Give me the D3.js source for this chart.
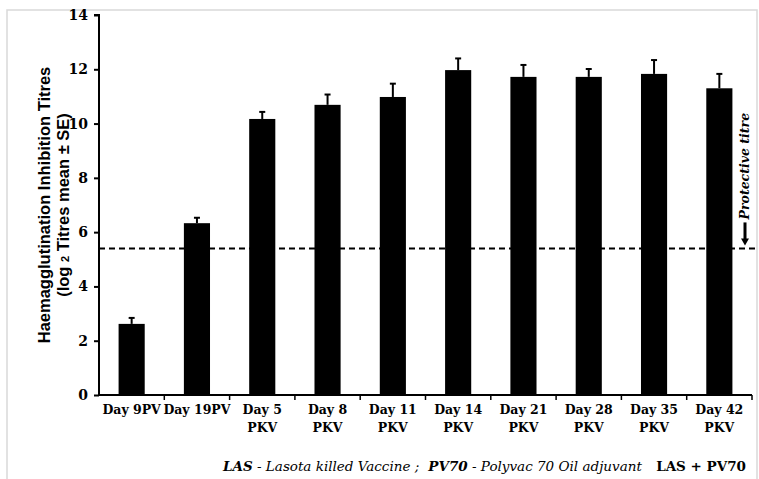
<!DOCTYPE html>
<html><head><meta charset="utf-8">
<script src="https://cdn.jsdelivr.net/npm/d3@7"></script>
<style>body{margin:0;background:#fff}svg{display:block}</style>
</head><body>
<svg id="c" width="759" height="479"></svg>
<script>
const categories = [["Day 9PV"],["Day 19PV"],["Day 5","PKV"],["Day 8","PKV"],["Day 11","PKV"],["Day 14","PKV"],["Day 21","PKV"],["Day 28","PKV"],["Day 35","PKV"],["Day 42","PKV"]];
const means = [2.62, 6.33, 10.17, 10.69, 10.98, 11.97, 11.72, 11.72, 11.83, 11.30];
const errors = [0.22, 0.2, 0.26, 0.38, 0.49, 0.43, 0.44, 0.29, 0.51, 0.53];
const yTicks = [0, 2, 4, 6, 8, 10, 12, 14];
const protectiveTitre = 5.4;

const svg = d3.select("#c");
const L = 99, R = 752, T = 15, B = 395;
const serif = "'DejaVu Serif', serif";

svg.append("rect").attr("x", 7).attr("y", 10).attr("width", 750).attr("height", 480)
  .attr("fill", "none").attr("stroke", "#d9d9d9").attr("stroke-width", 1.5);

const x = d3.scaleBand().domain(d3.range(categories.length)).range([L, R]).paddingInner(0.6).paddingOuter(0.3);
const y = d3.scaleLinear().domain([0, 14]).range([B, T]);

// protective titre line
svg.append("line").attr("x1", L).attr("x2", 759).attr("y1", y(protectiveTitre)).attr("y2", y(protectiveTitre))
  .attr("stroke", "#000").attr("stroke-width", 2).attr("stroke-dasharray", "6,4");

// bars
svg.append("g").selectAll("rect").data(means).join("rect")
  .attr("x", (d, i) => x(i)).attr("width", x.bandwidth())
  .attr("y", d => y(d)).attr("height", d => y(0) - y(d)).attr("fill", "#000");

// error bars
const eg = svg.append("g").attr("stroke", "#000").attr("stroke-width", 2);
means.forEach((m, i) => {
  const cx = x(i) + x.bandwidth() / 2;
  eg.append("line").attr("x1", cx).attr("x2", cx).attr("y1", y(m)).attr("y2", y(m + errors[i]));
  eg.append("line").attr("x1", cx - 3).attr("x2", cx + 3).attr("y1", y(m + errors[i])).attr("y2", y(m + errors[i]));
});

// y axis
const ya = svg.append("g").attr("transform", `translate(${L},0)`)
  .call(d3.axisLeft(y).tickValues(yTicks).tickSize(5).tickPadding(6).tickFormat(d3.format("d")));
ya.select(".domain").attr("stroke-width", 2).attr("d", `M-5,${T}H0V${B}`);
ya.selectAll(".tick line").attr("stroke-width", 2);
ya.selectAll("text").attr("font-family", serif).attr("font-weight", "bold").attr("font-size", 14).attr("fill", "#000");

// x axis
const xa = svg.append("g").attr("transform", `translate(0,${B})`);
xa.append("line").attr("x1", L).attr("x2", R).attr("stroke", "#000").attr("stroke-width", 2);
const step = x.step();
const bounds = d3.range(categories.length).map(i => x(i) + x.bandwidth() / 2 + step / 2);
bounds.forEach(b => xa.append("line").attr("x1", Math.min(b, R)).attr("x2", Math.min(b, R)).attr("y1", 0).attr("y2", 5).attr("stroke", "#000").attr("stroke-width", 1.5));
categories.forEach((c, i) => {
  const t = xa.append("text").attr("x", x(i) + x.bandwidth() / 2).attr("y", 19)
    .attr("text-anchor", "middle").attr("font-family", serif).attr("font-weight", "bold").attr("font-size", 12.5);
  c.forEach((line, j) => t.append("tspan").attr("x", x(i) + x.bandwidth() / 2).attr("dy", j === 0 ? 0 : 18).text(line));
});

// y title
const yt = svg.append("text").attr("transform", `translate(50,${(T + B) / 2}) rotate(-90)`)
  .attr("text-anchor", "middle").attr("font-family", "Arial, 'Liberation Sans', sans-serif").attr("font-weight", "bold").attr("font-size", 16.5);
yt.append("tspan").attr("x", 0).attr("dy", 0).text("Haemagglutination Inhibition Titres");
const l2 = yt.append("tspan").attr("x", 0).attr("dy", 19).text("(log ");
l2.append("tspan").attr("font-size", 11).text("2");
l2.append("tspan").text(" Titres mean ± SE)");

// protective titre annotation
svg.append("text").attr("transform", `translate(749,${y(protectiveTitre) - 29}) rotate(-90)`)
  .attr("font-family", serif).attr("font-weight", "bold").attr("font-style", "italic").attr("font-size", 12.5).text("Protective titre");
const ax = 745;
svg.append("line").attr("x1", ax).attr("x2", ax).attr("y1", y(protectiveTitre) - 26).attr("y2", y(protectiveTitre) - 9)
  .attr("stroke", "#000").attr("stroke-width", 3);
svg.append("path").attr("d", `M${ax - 4},${y(protectiveTitre) - 10}L${ax + 4},${y(protectiveTitre) - 10}L${ax},${y(protectiveTitre) - 3}Z`).attr("fill", "#000");

// footnote
const fn = svg.append("text").attr("x", 223).attr("y", 471).attr("font-family", serif).attr("font-style", "italic").attr("font-size", 13.5);
fn.append("tspan").attr("font-weight", "bold").text("LAS");
fn.append("tspan").text(" - Lasota killed Vaccine ;");
fn.append("tspan").attr("font-weight", "bold").attr("dx", 9).text("PV70");
fn.append("tspan").text(" - Polyvac 70 Oil adjuvant");
svg.append("text").attr("x", 746).attr("y", 471).attr("text-anchor", "end").attr("font-family", serif).attr("font-weight", "bold").attr("font-size", 13.5).text("LAS + PV70");
</script>
</body></html>
